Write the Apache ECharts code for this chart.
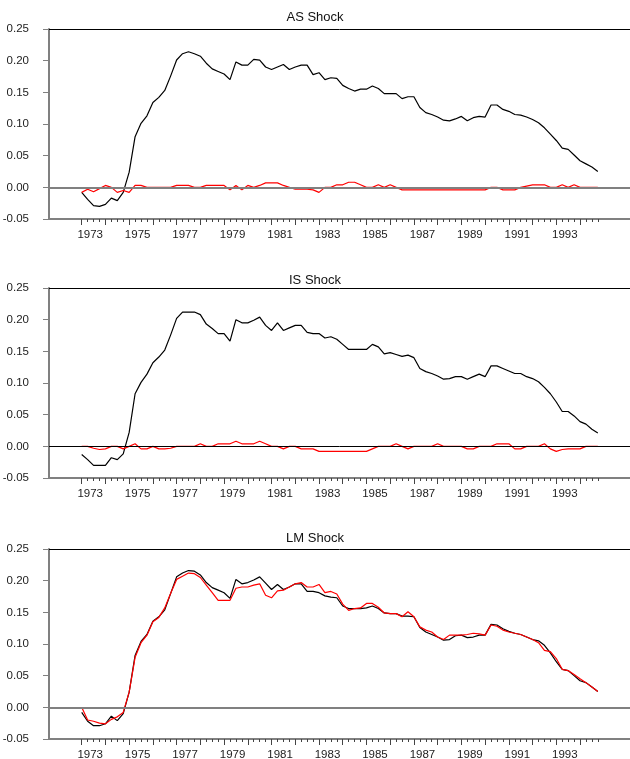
<!DOCTYPE html>
<html>
<head>
<meta charset="utf-8">
<script src="https://cdn.jsdelivr.net/npm/echarts@6/dist/echarts.min.js"></script>
<style>
  html, body { margin: 0; padding: 0; background: #fff; }
  #chart { width: 630px; height: 759px; }
</style>
</head>
<body>
<div id="chart"></div>
<script>
// Quarterly observations, 1973Q1 through 1994Q4
const startYear = 1973;
const panelTitles = ['AS Shock', 'IS Shock', 'LM Shock'];
const yearLabels = [1973, 1975, 1977, 1979, 1981, 1983, 1985, 1987, 1989, 1991, 1993];
const yearTicks = [1973, 1974, 1975, 1976, 1977, 1978, 1979, 1980, 1981, 1982, 1983,
  1984, 1985, 1986, 1987, 1988, 1989, 1990, 1991, 1992, 1993, 1994];

// Actual series (black) and shock component (red) for each panel
const actualAS = [
  -0.008, -0.019, -0.029, -0.030, -0.027, -0.017, -0.021, -0.008,
  0.024, 0.080, 0.101, 0.113, 0.134, 0.142, 0.153, 0.176,
  0.201, 0.211, 0.214, 0.211, 0.207, 0.196, 0.187, 0.183,
  0.179, 0.170, 0.198, 0.193, 0.193, 0.202, 0.201, 0.190,
  0.186, 0.190, 0.194, 0.186, 0.190, 0.193, 0.193, 0.178,
  0.181, 0.170, 0.173, 0.172, 0.161, 0.156, 0.152, 0.155,
  0.155, 0.160, 0.156, 0.148, 0.148, 0.148, 0.140, 0.143,
  0.143, 0.126, 0.118, 0.115, 0.111, 0.106, 0.105, 0.108,
  0.112, 0.105, 0.110, 0.112, 0.111, 0.130, 0.130, 0.123,
  0.120, 0.115, 0.114, 0.111, 0.107, 0.102, 0.094, 0.084,
  0.074, 0.062, 0.060, 0.051, 0.042, 0.037, 0.032, 0.025
];
const shockAS = [
  -0.008, -0.003, -0.007, -0.002, 0.003, 0.000, -0.008, -0.005,
  -0.008, 0.003, 0.003, 0.000, 0.000, 0.000, 0.000, 0.000,
  0.003, 0.003, 0.003, 0.000, 0.000, 0.003, 0.003, 0.003,
  0.003, -0.004, 0.003, -0.004, 0.003, 0.000, 0.003, 0.007,
  0.007, 0.007, 0.003, 0.000, -0.003, -0.003, -0.003, -0.004,
  -0.008, 0.000, 0.000, 0.004, 0.004, 0.008, 0.008, 0.004,
  0.000, 0.000, 0.004, 0.000, 0.004, 0.000, -0.004, -0.004,
  -0.004, -0.004, -0.004, -0.004, -0.004, -0.004, -0.004, -0.004,
  -0.004, -0.004, -0.004, -0.004, -0.004, 0.000, 0.000, -0.004,
  -0.004, -0.004, 0.000, 0.002, 0.004, 0.004, 0.004, 0.000,
  0.000, 0.004, 0.000, 0.004, 0.000, 0.000, 0.000, 0.000
];
const actualIS = [
  -0.013, -0.021, -0.030, -0.030, -0.030, -0.018, -0.021, -0.012,
  0.022, 0.083, 0.101, 0.114, 0.132, 0.141, 0.152, 0.176,
  0.202, 0.212, 0.212, 0.212, 0.208, 0.193, 0.186, 0.178,
  0.178, 0.166, 0.200, 0.195, 0.195, 0.199, 0.204, 0.191,
  0.183, 0.195, 0.183, 0.187, 0.191, 0.191, 0.180, 0.178,
  0.178, 0.171, 0.173, 0.169, 0.161, 0.153, 0.153, 0.153,
  0.153, 0.161, 0.157, 0.146, 0.148, 0.145, 0.142, 0.144,
  0.140, 0.123, 0.118, 0.115, 0.111, 0.106, 0.107, 0.110,
  0.110, 0.106, 0.110, 0.114, 0.110, 0.127, 0.127, 0.123,
  0.119, 0.115, 0.115, 0.110, 0.107, 0.102, 0.093, 0.083,
  0.070, 0.055, 0.055, 0.048, 0.039, 0.035, 0.027, 0.021
];
const shockIS = [
  0.000, 0.000, -0.003, -0.005, -0.004, 0.000, 0.000, -0.004,
  0.000, 0.004, -0.004, -0.004, 0.000, -0.004, -0.004, -0.003,
  0.000, 0.000, 0.000, 0.000, 0.004, 0.000, 0.000, 0.004,
  0.004, 0.004, 0.008, 0.004, 0.004, 0.004, 0.008, 0.004,
  0.000, 0.000, -0.004, 0.000, 0.000, -0.004, -0.004, -0.004,
  -0.008, -0.008, -0.008, -0.008, -0.008, -0.008, -0.008, -0.008,
  -0.008, -0.004, 0.000, 0.000, 0.000, 0.004, 0.000, -0.004,
  0.000, 0.000, 0.000, 0.000, 0.004, 0.000, 0.000, 0.000,
  0.000, -0.004, -0.004, 0.000, 0.000, 0.000, 0.004, 0.004,
  0.004, -0.004, -0.004, 0.000, 0.000, 0.000, 0.004, -0.004,
  -0.008, -0.005, -0.004, -0.004, -0.004, 0.000, 0.000, 0.000
];
const actualLM = [
  -0.008, -0.022, -0.029, -0.029, -0.026, -0.014, -0.021, -0.010,
  0.024, 0.082, 0.104, 0.115, 0.136, 0.143, 0.154, 0.180,
  0.206, 0.212, 0.216, 0.215, 0.209, 0.197, 0.189, 0.185,
  0.181, 0.172, 0.202, 0.195, 0.197, 0.201, 0.206, 0.196,
  0.186, 0.194, 0.186, 0.190, 0.195, 0.195, 0.183, 0.183,
  0.181, 0.176, 0.174, 0.173, 0.160, 0.156, 0.156, 0.156,
  0.157, 0.160, 0.156, 0.149, 0.148, 0.148, 0.144, 0.144,
  0.143, 0.126, 0.119, 0.115, 0.111, 0.106, 0.107, 0.113,
  0.114, 0.110, 0.111, 0.114, 0.114, 0.131, 0.130, 0.124,
  0.120, 0.117, 0.115, 0.111, 0.107, 0.105, 0.098, 0.086,
  0.072, 0.060, 0.058, 0.050, 0.042, 0.039, 0.032, 0.025
];
const shockLM = [
  0.000, -0.020, -0.022, -0.025, -0.026, -0.019, -0.015, -0.008,
  0.024, 0.079, 0.102, 0.114, 0.135, 0.142, 0.157, 0.180,
  0.202, 0.207, 0.212, 0.211, 0.205, 0.193, 0.181, 0.169,
  0.169, 0.169, 0.188, 0.190, 0.190, 0.193, 0.195, 0.177,
  0.173, 0.184, 0.185, 0.190, 0.195, 0.197, 0.190, 0.190,
  0.194, 0.181, 0.183, 0.179, 0.163, 0.153, 0.156, 0.157,
  0.164, 0.164, 0.158, 0.149, 0.148, 0.148, 0.143, 0.151,
  0.143, 0.127, 0.122, 0.119, 0.111, 0.107, 0.114, 0.114,
  0.114, 0.115, 0.117, 0.116, 0.114, 0.130, 0.128, 0.122,
  0.119, 0.117, 0.115, 0.111, 0.107, 0.102, 0.090, 0.088,
  0.077, 0.060, 0.058, 0.052, 0.045, 0.039, 0.032, 0.025
];

const panels = [
  { title: panelTitles[0], actual: actualAS, shock: shockAS, zeroColor: '#808080', zeroWidth: 2 },
  { title: panelTitles[1], actual: actualIS, shock: shockIS, zeroColor: '#000000', zeroWidth: 1 },
  { title: panelTitles[2], actual: actualLM, shock: shockLM, zeroColor: '#808080', zeroWidth: 2 }
];

const FONT = '"Liberation Sans Narrow", "Arial Narrow", "Liberation Sans", sans-serif';
const AXIS_GREY = '#808080';
const TEXT = '#222';

// Time axis: 1973 sits 32.7px right of the plot edge; 23.73px per year
const pxPerYear = 23.73;
const plotWidth = 581;
const xMin = startYear - 32.7 / pxPerYear;
const xMax = xMin + plotWidth / pxPerYear;

const quarterDates = panels[0].actual.map((_, i) => startYear + i / 4);

const gridTops = [29, 288, 549];
const gridHeight = 190;
const titleTops = [6, 269, 527];

const grids = [], xAxes = [], yAxes = [], series = [], titles = [];

panels.forEach((p, g) => {
  grids.push({ left: 49, right: 0, top: gridTops[g], height: gridHeight, outerBoundsMode: 'none' });
  titles.push({
    text: p.title, left: 'center', top: titleTops[g],
    textStyle: { fontFamily: FONT, fontSize: 13, fontWeight: 'normal', color: '#111' }
  });

  // quarter ticks, axis line and year labels
  xAxes.push({
    gridIndex: g, type: 'value', min: xMin, max: xMax, position: 'bottom',
    axisLine: { show: true, onZero: false, lineStyle: { color: AXIS_GREY, width: 2 } },
    axisTick: { show: true, customValues: quarterDates, length: 3, lineStyle: { color: '#444', width: 1 } },
    axisLabel: {
      show: true, customValues: yearLabels, formatter: v => String(Math.round(v)),
      margin: 10, padding: [0, 0, 0, 17], fontFamily: FONT, fontSize: 11.5, color: TEXT
    },
    splitLine: { show: false }
  });
  // longer ticks at each year
  xAxes.push({
    gridIndex: g, type: 'value', min: xMin, max: xMax, position: 'bottom',
    axisLine: { show: false, onZero: false },
    axisTick: { show: true, customValues: yearTicks, length: 6, lineStyle: { color: '#444', width: 1 } },
    axisLabel: { show: false },
    splitLine: { show: false }
  });
  // top border of the frame
  xAxes.push({
    gridIndex: g, type: 'value', min: xMin, max: xMax, position: 'top',
    axisLine: { show: true, onZero: false, lineStyle: { color: '#000', width: 1 } },
    axisTick: { show: false }, axisLabel: { show: false }, splitLine: { show: false }
  });

  yAxes.push({
    gridIndex: g, type: 'value', min: -0.05, max: 0.25, interval: 0.05,
    axisLine: { show: true, onZero: false, lineStyle: { color: AXIS_GREY, width: 2 } },
    axisTick: { show: true, length: 6, lineStyle: { color: AXIS_GREY, width: 1 } },
    axisLabel: {
      margin: 20, fontFamily: FONT, fontSize: 11.5, color: TEXT,
      formatter: v => v.toFixed(2)
    },
    splitLine: { show: false }
  });

  const common = {
    type: 'line', xAxisIndex: g * 3, yAxisIndex: g, showSymbol: false, symbol: 'none',
    smooth: false, silent: true, animation: false
  };
  series.push(Object.assign({}, common, {
    name: p.title + ' actual',
    data: p.actual.map((v, i) => [quarterDates[i], v]),
    lineStyle: { color: '#000', width: 1.2 },
    z: 3,
    markLine: {
      silent: true, symbol: 'none', label: { show: false }, animation: false,
      lineStyle: { color: p.zeroColor, width: p.zeroWidth, type: 'solid' },
      data: [{ yAxis: 0 }]
    }
  }));
  series.push(Object.assign({}, common, {
    name: p.title + ' shock',
    data: p.shock.map((v, i) => [quarterDates[i], v]),
    lineStyle: { color: '#ff0000', width: 1.2 },
    z: 4
  }));
});

const chart = echarts.init(document.getElementById('chart'), null, { renderer: 'canvas' });
chart.setOption({
  backgroundColor: '#fff',
  animation: false,
  title: titles,
  grid: grids,
  xAxis: xAxes,
  yAxis: yAxes,
  series: series
});
</script>
</body>
</html>
